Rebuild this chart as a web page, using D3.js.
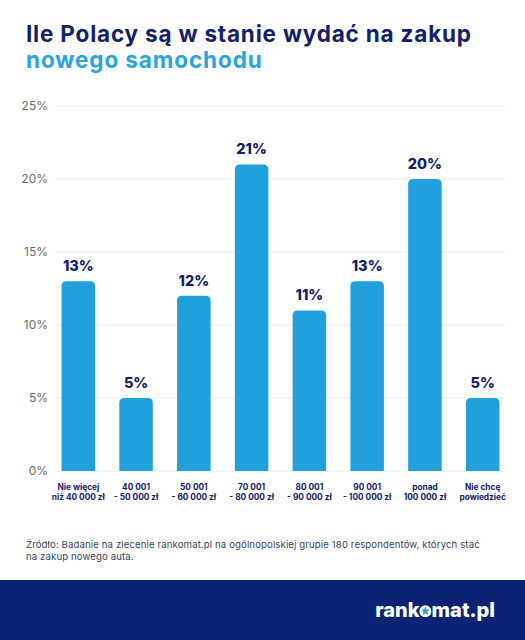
<!DOCTYPE html>
<html><head><meta charset="utf-8">
<script src="https://cdn.jsdelivr.net/npm/d3@7"></script>
<style>body{margin:0;background:#fff}svg{display:block}</style>
</head><body>
<svg id="c" width="525" height="640"></svg>
<script>
const categories = [
  ["Nie więcej","niż 40 000 zł"],
  ["40 001","- 50 000 zł"],
  ["50 001","- 60 000 zł"],
  ["70 001","- 80 000 zł"],
  ["80 001","- 90 000 zł"],
  ["90 001","- 100 000 zł"],
  ["ponad","100 000 zł"],
  ["Nie chcę","powiedzieć"]
];
const values = [13, 5, 12, 21, 11, 13, 20, 5];
const yTicks = [0, 5, 10, 15, 20, 25];
const titleLine1 = "Ile Polacy są w stanie wydać na zakup";
const titleLine2 = "nowego samochodu";
const sourceLines = ["Źródło: Badanie na zlecenie rankomat.pl na ogólnopolskiej grupie 180 respondentów, których stać","na zakup nowego auta."];

const navy = "#13206a", blue = "#22a0dc", font = "Inter, 'Open Sans', sans-serif";
const svg = d3.select("#c");

svg.append("text").attr("x", 26).attr("y", 42).text(titleLine1)
  .attr("font-family", font).attr("font-weight", 700).attr("font-size", 22.5).attr("letter-spacing", 0.8).attr("fill", navy);
svg.append("text").attr("x", 26).attr("y", 68).text(titleLine2)
  .attr("font-family", font).attr("font-weight", 700).attr("font-size", 22.5).attr("letter-spacing", 0.9).attr("fill", "#2aa5de");

const x = d3.scaleBand().domain(d3.range(categories.length)).range([50, 511]).paddingInner(0.42).paddingOuter(0.2);
const y = d3.scaleLinear().domain([0, 25]).range([471, 106]);

const g = svg.append("g");
g.selectAll("line.grid").data(yTicks).join("line")
  .attr("x1", 55).attr("x2", 505).attr("y1", d => y(d)).attr("y2", d => y(d))
  .attr("stroke", "#ececec").attr("stroke-width", 1);
g.selectAll("text.yt").data(yTicks).join("text")
  .attr("x", 48).attr("y", d => y(d) + 4).attr("text-anchor", "end")
  .attr("font-family", font).attr("font-size", 12).attr("fill", "#6b6b6b").text(d => d + "%");

const r = 5;
g.selectAll("path.bar").data(values).join("path")
  .attr("fill", blue)
  .attr("d", (d, i) => {
    const x0 = x(i), w = x.bandwidth(), top = y(d), bot = y(0);
    return `M${x0},${bot}V${top + r}Q${x0},${top} ${x0 + r},${top}H${x0 + w - r}Q${x0 + w},${top} ${x0 + w},${top + r}V${bot}Z`;
  });
g.selectAll("text.val").data(values).join("text")
  .attr("x", (d, i) => x(i) + x.bandwidth() / 2).attr("y", d => y(d) - 10)
  .attr("text-anchor", "middle").attr("font-family", font).attr("font-weight", 800)
  .attr("font-size", 14.5).attr("fill", navy).text(d => d + "%");

const cl = g.selectAll("text.cat").data(categories).join("text")
  .attr("text-anchor", "middle").attr("font-family", font).attr("font-weight", 700)
  .attr("font-size", 8.3).attr("fill", navy);
cl.each(function(d, i) {
  const t = d3.select(this);
  d.forEach((line, k) => t.append("tspan").attr("x", x(i) + x.bandwidth() / 2).attr("y", 490 + k * 10).text(line));
});

sourceLines.forEach((s, k) => svg.append("text").attr("x", 26).attr("y", 548 + k * 11.5).text(s)
  .attr("font-family", font).attr("font-size", 9.6).attr("letter-spacing", 0.12).attr("fill", "#3a3f5c"));

svg.append("rect").attr("x", 0).attr("y", 580).attr("width", 525).attr("height", 60).attr("fill", "#0c2373");
const logo = svg.append("text").attr("x", 495).attr("y", 617).attr("text-anchor", "end")
  .attr("font-family", font).attr("font-weight", 800).attr("font-size", 20).attr("fill", "#fff");
const t1 = logo.append("tspan").text("rank");
const t2 = logo.append("tspan").text("o").attr("fill", "#0c2373");
const t3 = logo.append("tspan").text("mat.pl");
const L = logo.node().getComputedTextLength();
const oStart = 495 - L + t1.node().getComputedTextLength();
const oW = t2.node().getComputedTextLength();
const cx = oStart + oW / 2, cy = 617 - 5.8;
svg.append("circle").attr("cx", cx).attr("cy", cy).attr("r", 6).attr("fill", "#fff");
const star = d3.range(10).map(k => {
  const a = -Math.PI / 2 + k * Math.PI / 5, rr = k % 2 ? 2.1 : 4.6;
  return [cx + rr * Math.cos(a), cy + rr * Math.sin(a)];
});
svg.append("path").attr("d", d3.line()(star) + "Z").attr("fill", "#22a0dc");
</script>
</body></html>
